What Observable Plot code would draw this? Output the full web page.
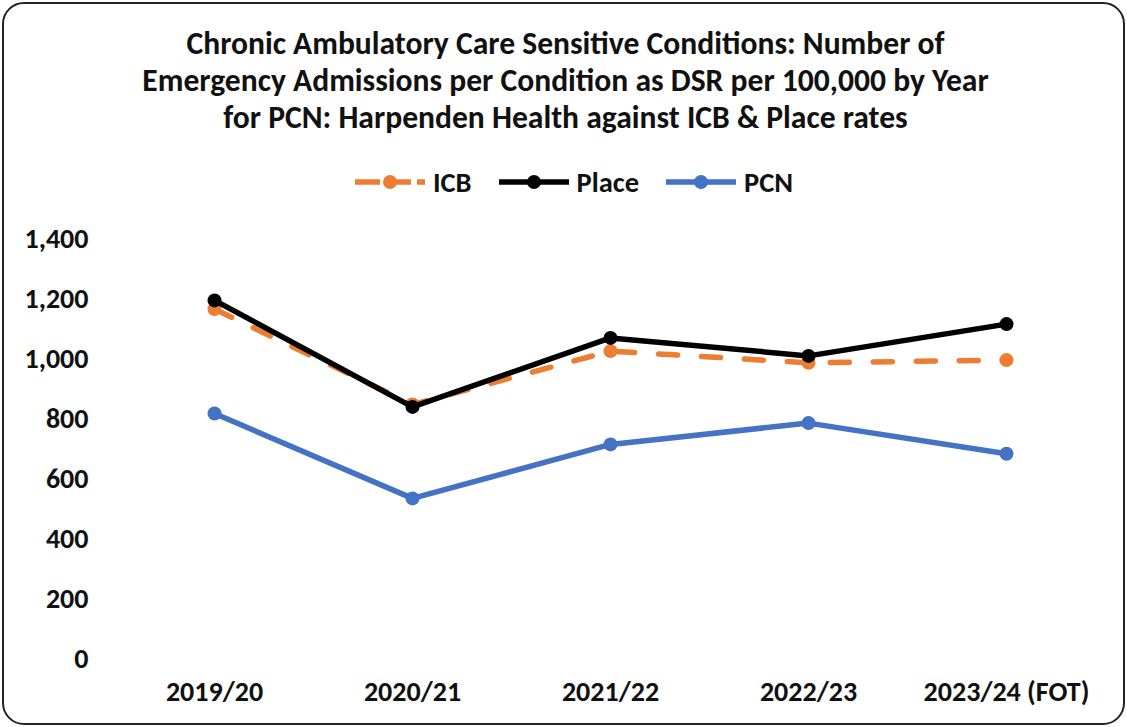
<!DOCTYPE html>
<html>
<head>
<meta charset="utf-8">
<script src="https://cdn.jsdelivr.net/npm/d3@7"></script>
<script src="https://cdn.jsdelivr.net/npm/@observablehq/plot@0.6"></script>
<style>
  html, body { margin: 0; padding: 0; background: #fff; }
  body { width: 1127px; height: 727px; overflow: hidden; font-family: Carlito, "Liberation Sans Narrow", Lato, sans-serif; }
  #frame { position: absolute; left: 2px; top: 2px; width: 1119px; height: 719px; border: 2px solid #222; border-radius: 22px; }
  #title { position: absolute; left: 2px; top: 25px; width: 1127px; text-align: center; font-weight: bold; font-size: 31.6px; line-height: 37px; color: #111; }
  #legend { position: absolute; left: 10px; top: 165px; height: 34px; width: 1127px; display: flex; justify-content: center; align-items: center; font-weight: bold; font-size: 28.5px; color: #111; }
  .item { display: flex; align-items: center; margin: 0 13px; }
  .item svg { margin-right: 7px; }
  #chart { position: absolute; left: 0; top: 210px; }
</style>
</head>
<body>
<div id="frame"></div>
<div id="title">Chronic Ambulatory Care Sensitive Conditions: Number of<br>Emergency Admissions per Condition as DSR per 100,000 by Year<br>for PCN: Harpenden Health against ICB &amp; Place rates</div>
<div id="legend"></div>
<div id="chart"></div>
<script>
const years = ["2019/20", "2020/21", "2021/22", "2022/23", "2023/24 (FOT)"];
const icb = [1168, 850, 1028, 989, 998];
const place = [1197, 842, 1072, 1012, 1118];
const pcn = [820, 537, 717, 788, 686];
const yTicks = [0, 200, 400, 600, 800, 1000, 1200, 1400];
const seriesNames = ["ICB", "Place", "PCN"];
const seriesColors = ["#ED7D31", "#000000", "#4472C4"];

const seriesValues = [icb, place, pcn];
const rows = [];
seriesNames.forEach((s, i) => years.forEach((y, j) => rows.push({series: s, year: y, value: seriesValues[i][j]})));

const font = 'Carlito, "Liberation Sans Narrow", Lato, sans-serif';

// Legend
const legend = document.getElementById("legend");
seriesNames.forEach((s, i) => {
  const item = document.createElement("div");
  item.className = "item";
  const dash = s === "ICB" ? 'stroke-dasharray="25,6"' : "";
  item.innerHTML = `<svg width="72" height="20"><line x1="1" y1="10" x2="71" y2="10" stroke="${seriesColors[i]}" stroke-width="5.5" ${dash}></line><circle cx="36" cy="10" r="7" fill="${seriesColors[i]}"></circle></svg><span>${s}</span>`;
  legend.appendChild(item);
});

const chart = Plot.plot({
  width: 1127,
  height: 509,
  marginLeft: 114,
  marginRight: 22,
  marginTop: 29,
  marginBottom: 60,
  style: {fontFamily: font, fontSize: "28px", fontWeight: "bold", color: "#111", background: "transparent"},
  x: {type: "point", domain: years, padding: 0.5, label: null, tickSize: 0, tickPadding: 22},
  y: {domain: [0, 1400], ticks: yTicks, tickFormat: d3.format(","), label: null, tickSize: 0, tickPadding: 26},
  color: {domain: seriesNames, range: seriesColors},
  marks: [
    Plot.ruleY(yTicks, {x1: years[0], x2: years[years.length - 1], stroke: "#d9d9d9", strokeWidth: 2, insetLeft: -99, insetRight: -99}),
    Plot.line(rows.filter(d => d.series === "ICB"), {x: "year", y: "value", stroke: "series", strokeWidth: 5.5, strokeDasharray: "19,24", strokeLinecap: "round"}),
    Plot.dot(rows.filter(d => d.series === "ICB"), {x: "year", y: "value", fill: "series", r: 7}),
    Plot.line(rows.filter(d => d.series === "Place"), {x: "year", y: "value", stroke: "series", strokeWidth: 5.5}),
    Plot.dot(rows.filter(d => d.series === "Place"), {x: "year", y: "value", fill: "series", r: 7}),
    Plot.line(rows.filter(d => d.series === "PCN"), {x: "year", y: "value", stroke: "series", strokeWidth: 5.5}),
    Plot.dot(rows.filter(d => d.series === "PCN"), {x: "year", y: "value", fill: "series", r: 7})
  ]
});
document.getElementById("chart").appendChild(chart);
</script>
</body>
</html>
